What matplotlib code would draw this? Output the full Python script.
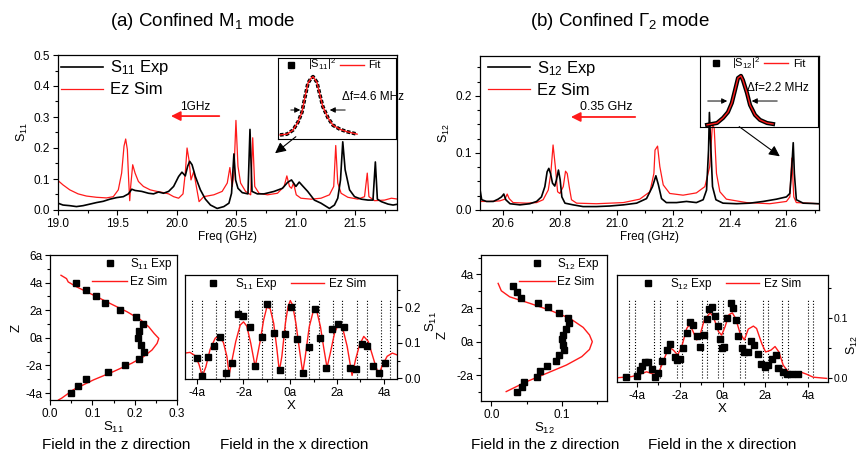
import matplotlib
matplotlib.use("Agg")
import matplotlib.pyplot as plt
from matplotlib.ticker import MultipleLocator, FormatStrFormatter, FuncFormatter
from matplotlib.lines import Line2D

plt.rcParams['font.family'] = ['Liberation Sans', 'DejaVu Sans']
plt.rcParams['mathtext.fontset'] = 'custom'
plt.rcParams['mathtext.rm'] = 'Liberation Sans'
plt.rcParams['mathtext.it'] = 'Liberation Sans:italic'
plt.rcParams['mathtext.bf'] = 'Liberation Sans:bold'

# ---------------- (a) spectrum: S11 exp / Ez sim ----------------
fa_exp = [19.000, 19.042, 19.099, 19.155, 19.211, 19.268, 19.324, 19.380, 19.437, 19.493,
          19.549, 19.592, 19.620, 19.648, 19.704, 19.761, 19.803, 19.845, 19.887, 19.930,
          19.972, 20.014, 20.042, 20.070, 20.090, 20.107, 20.127, 20.155, 20.197, 20.239,
          20.282, 20.338, 20.394, 20.437, 20.459, 20.479, 20.493, 20.513, 20.549, 20.597,
          20.614, 20.631, 20.676, 20.732, 20.817, 20.887, 20.930, 20.963, 21.000, 21.028,
          21.056, 21.099, 21.155, 21.211, 21.282, 21.324, 21.352, 21.375, 21.394, 21.414,
          21.451, 21.493, 21.549, 21.606, 21.648, 21.668, 21.685, 21.718, 21.775, 21.817, 21.859]
sa_exp = [0.022, 0.016, 0.014, 0.011, 0.014, 0.019, 0.024, 0.028, 0.035, 0.040,
          0.043, 0.052, 0.067, 0.063, 0.060, 0.054, 0.052, 0.058, 0.054, 0.060,
          0.076, 0.108, 0.122, 0.110, 0.141, 0.157, 0.146, 0.108, 0.065, 0.035,
          0.016, 0.005, 0.011, 0.022, 0.054, 0.181, 0.097, 0.070, 0.056, 0.052,
          0.260, 0.060, 0.052, 0.052, 0.060, 0.070, 0.089, 0.097, 0.076, 0.090,
          0.078, 0.060, 0.032, 0.022, 0.005, 0.016, 0.038, 0.097, 0.220, 0.130,
          0.065, 0.043, 0.035, 0.032, 0.032, 0.155, 0.035, 0.027, 0.019, 0.016, 0.019]

fa_sim = [19.000, 19.042, 19.099, 19.169, 19.239, 19.324, 19.408, 19.465, 19.507, 19.535,
          19.555, 19.569, 19.583, 19.594, 19.603, 19.611, 19.628, 19.648, 19.676, 19.718,
          19.775, 19.831, 19.887, 19.930, 19.972, 20.014, 20.051, 20.070, 20.085, 20.101,
          20.118, 20.141, 20.163, 20.186, 20.225, 20.310, 20.380, 20.423, 20.445, 20.465,
          20.479, 20.496, 20.513, 20.535, 20.577, 20.620, 20.637, 20.654, 20.690, 20.761,
          20.845, 20.901, 20.924, 20.946, 20.963, 20.980, 21.003, 21.042, 21.127, 21.211,
          21.282, 21.318, 21.335, 21.352, 21.380, 21.437, 21.521, 21.577, 21.600, 21.614,
          21.662, 21.746, 21.803, 21.859]
sa_sim = [0.095, 0.081, 0.065, 0.052, 0.045, 0.041, 0.039, 0.043, 0.065, 0.119,
          0.206, 0.229, 0.195, 0.097, 0.030, 0.076, 0.146, 0.119, 0.092, 0.076,
          0.065, 0.060, 0.056, 0.052, 0.043, 0.038, 0.052, 0.119, 0.200, 0.162,
          0.097, 0.124, 0.076, 0.027, 0.043, 0.049, 0.060, 0.087, 0.137, 0.076,
          0.119, 0.289, 0.141, 0.087, 0.060, 0.049, 0.233, 0.076, 0.054, 0.049,
          0.054, 0.076, 0.110, 0.076, 0.070, 0.087, 0.049, 0.038, 0.035, 0.038,
          0.049, 0.076, 0.208, 0.087, 0.054, 0.041, 0.035, 0.043, 0.119, 0.043,
          0.030, 0.032, 0.038, 0.035]

# inset (a): zoom on one resonance, normalised units
ia_x = [0.017, 0.076, 0.127, 0.170, 0.203, 0.229, 0.254, 0.280, 0.297, 0.330,
        0.356, 0.380, 0.424, 0.466, 0.525, 0.585, 0.670]
ia_y = [0.05, 0.06, 0.11, 0.21, 0.33, 0.52, 0.69, 0.75, 0.77, 0.70,
        0.54, 0.40, 0.26, 0.17, 0.12, 0.09, 0.06]

# ---------------- (b) spectrum: S12 exp / Ez sim ----------------
fb_exp = [20.518, 20.524, 20.541, 20.565, 20.582, 20.594, 20.602, 20.609, 20.624, 20.659,
          20.694, 20.718, 20.735, 20.747, 20.755, 20.761, 20.767, 20.774, 20.782, 20.788,
          20.795, 20.801, 20.807, 20.818, 20.847, 20.882, 20.929, 20.976, 21.024, 21.071,
          21.106, 21.127, 21.139, 21.148, 21.159, 21.176, 21.212, 21.247, 21.282, 21.306,
          21.318, 21.325, 21.328, 21.333, 21.339, 21.351, 21.376, 21.424, 21.471, 21.518,
          21.565, 21.600, 21.612, 21.619, 21.624, 21.628, 21.635, 21.659, 21.715]
sb_exp = [0.036, 0.018, 0.015, 0.015, 0.019, 0.023, 0.028, 0.018, 0.011, 0.009,
          0.011, 0.015, 0.023, 0.041, 0.067, 0.073, 0.064, 0.047, 0.042, 0.053,
          0.070, 0.053, 0.023, 0.012, 0.009, 0.006, 0.006, 0.007, 0.009, 0.012,
          0.020, 0.041, 0.060, 0.044, 0.020, 0.013, 0.013, 0.015, 0.013, 0.018,
          0.035, 0.105, 0.171, 0.111, 0.041, 0.018, 0.012, 0.011, 0.012, 0.015,
          0.019, 0.023, 0.029, 0.076, 0.118, 0.064, 0.018, 0.012, 0.011]

fb_sim = [20.518, 20.553, 20.588, 20.606, 20.614, 20.621, 20.635, 20.682, 20.718, 20.741,
          20.759, 20.768, 20.776, 20.784, 20.792, 20.800, 20.812, 20.820, 20.826, 20.833,
          20.841, 20.859, 20.929, 21.024, 21.082, 21.118, 21.132, 21.136, 21.145, 21.153,
          21.165, 21.188, 21.235, 21.282, 21.312, 21.329, 21.339, 21.345, 21.353, 21.365,
          21.388, 21.459, 21.541, 21.600, 21.612, 21.619, 21.626, 21.635, 21.715]
sb_sim = [0.015, 0.015, 0.016, 0.019, 0.028, 0.020, 0.013, 0.012, 0.013, 0.018,
          0.035, 0.064, 0.114, 0.076, 0.032, 0.029, 0.041, 0.068, 0.064, 0.041,
          0.018, 0.012, 0.011, 0.013, 0.019, 0.032, 0.064, 0.105, 0.112, 0.076,
          0.044, 0.029, 0.026, 0.030, 0.041, 0.076, 0.152, 0.143, 0.064, 0.032,
          0.019, 0.013, 0.011, 0.015, 0.023, 0.091, 0.023, 0.013, 0.011]

ib_x = [0.060, 0.144, 0.195, 0.237, 0.270, 0.297, 0.322, 0.347, 0.364, 0.398,
        0.424, 0.466, 0.508, 0.568, 0.619]
ib_y = [0.03, 0.056, 0.127, 0.21, 0.34, 0.52, 0.69, 0.72, 0.66, 0.48,
        0.31, 0.17, 0.10, 0.056, 0.042]

# ---------------- (a) field profiles ----------------
az_exp_s = [0.061, 0.085, 0.108, 0.131, 0.166, 0.204, 0.219, 0.211, 0.209, 0.214,
            0.221, 0.210, 0.178, 0.138, 0.085, 0.065, 0.050]
az_exp_z = [4.0, 3.5, 3.0, 2.5, 2.0, 1.5, 1.0, 0.5, 0.0, -0.5,
            -1.0, -1.5, -2.0, -2.5, -3.0, -3.5, -4.0]
az_sim_s = [0.020, 0.028, 0.055, 0.103, 0.150, 0.193, 0.221, 0.241, 0.253, 0.257,
            0.246, 0.233, 0.213, 0.182, 0.142, 0.103, 0.063, 0.043, 0.039, 0.026]
az_sim_z = [-4.5, -4.36, -3.76, -3.04, -2.44, -1.84, -1.36, -0.88, -0.4, -0.04,
            0.32, 0.81, 1.33, 1.89, 2.49, 3.09, 3.69, 4.05, 4.29, 4.53]

ax_exp_x = [-4.0, -3.76, -3.5, -3.24, -2.99, -2.73, -2.5, -2.24, -2.0, -1.74,
            -1.5, -1.21, -0.99, -0.71, -0.46, -0.21, 0.01, 0.27, 0.53, 0.8,
            1.06, 1.29, 1.53, 1.79, 2.04, 2.3, 2.56, 2.81, 3.07, 3.29,
            3.54, 3.79, 4.04]
ax_exp_s = [0.057, 0.006, 0.060, 0.090, 0.116, 0.016, 0.044, 0.180, 0.175, 0.144,
            0.034, 0.116, 0.210, 0.129, 0.023, 0.125, 0.201, 0.110, 0.014, 0.088,
            0.194, 0.113, 0.030, 0.138, 0.152, 0.144, 0.030, 0.025, 0.097, 0.090,
            0.034, 0.016, 0.042]
ax_sim_x = [-4.5, -4.29, -4.07, -3.9, -3.76, -3.61, -3.43, -3.21, -3.04, -2.86,
            -2.71, -2.61, -2.5, -2.33, -2.14, -2.0, -1.86, -1.69, -1.5, -1.29,
            -1.14, -1.0, -0.86, -0.71, -0.57, -0.47, -0.36, -0.21, -0.1, 0.0,
            0.1, 0.24, 0.39, 0.53, 0.64, 0.81, 1.0, 1.14, 1.29, 1.43,
            1.57, 1.71, 1.89, 2.07, 2.24, 2.43, 2.64, 2.79, 2.96, 3.14,
            3.33, 3.5, 3.67, 3.79, 3.93, 4.14, 4.36, 4.64]
ax_sim_s = [0.071, 0.073, 0.064, 0.039, 0.006, 0.032, 0.081, 0.113, 0.119, 0.101,
            0.062, 0.011, 0.048, 0.104, 0.150, 0.159, 0.147, 0.099, 0.032, 0.104,
            0.164, 0.201, 0.196, 0.155, 0.081, 0.020, 0.062, 0.155, 0.201, 0.219,
            0.206, 0.155, 0.081, 0.016, 0.062, 0.145, 0.194, 0.187, 0.145, 0.085,
            0.030, 0.071, 0.127, 0.155, 0.141, 0.090, 0.008, 0.053, 0.094, 0.118,
            0.104, 0.067, 0.030, 0.011, 0.036, 0.062, 0.071, 0.064]
ax_rods = [-4.19, -3.79, -3.19, -2.79, -2.19, -1.79, -1.19, -0.79, -0.21, 0.21,
           0.81, 1.21, 1.81, 2.21, 2.86, 3.29, 3.86, 4.24]

# ---------------- (b) field profiles ----------------
bz_exp_s = [0.031, 0.037, 0.042, 0.067, 0.081, 0.096, 0.109, 0.111, 0.107, 0.102,
            0.101, 0.102, 0.103, 0.097, 0.092, 0.079, 0.069, 0.065, 0.046, 0.043, 0.037]
bz_exp_z = [3.31, 2.97, 2.63, 2.32, 2.04, 1.72, 1.39, 1.09, 0.75, 0.40,
            0.14, -0.2, -0.5, -0.79, -1.13, -1.45, -1.72, -2.08, -2.38, -2.67, -2.97]
bz_sim_s = [0.0095, 0.014, 0.026, 0.055, 0.083, 0.112, 0.131, 0.140, 0.144, 0.140,
            0.129, 0.107, 0.079, 0.050, 0.021]
bz_sim_z = [3.47, 3.03, 2.67, 2.28, 1.88, 1.39, 0.85, 0.4, 0.0, -0.46,
            -0.89, -1.39, -1.88, -2.38, -2.97]

bx_exp_x = [-4.51, -4.0, -3.85, -3.74, -3.61, -3.49, -3.3, -3.14, -2.99, -2.8,
            -2.6, -2.45, -2.22, -2.1, -1.98, -1.83, -1.67, -1.52, -1.36, -1.2,
            -1.05, -0.85, -0.74, -0.63, -0.5, -0.35, -0.19, -0.1, -0.04, 0.09,
            0.23, 0.4, 0.5, 0.63, 0.74, 0.89, 1.02, 1.17, 1.33, 1.48,
            1.64, 1.79, 1.98, 2.14, 2.29, 2.49, 2.61, 2.8, 3.0, 3.23, 3.51]
bx_exp_s = [0.003, 0.004, 0.014, 0.021, 0.027, 0.028, 0.016, 0.003, 0.009, 0.029,
            0.048, 0.057, 0.035, 0.030, 0.032, 0.050, 0.075, 0.093, 0.089, 0.071,
            0.053, 0.072, 0.098, 0.115, 0.119, 0.104, 0.087, 0.066, 0.050, 0.053,
            0.100, 0.125, 0.117, 0.097, 0.070, 0.050, 0.044, 0.044, 0.063, 0.056,
            0.041, 0.024, 0.019, 0.022, 0.033, 0.039, 0.017, 0.011, 0.008, 0.007, 0.007]
bx_sim_x = [-4.93, -4.23, -3.77, -3.54, -3.22, -2.99, -2.68, -2.49, -2.29, -2.09,
            -1.9, -1.67, -1.55, -1.41, -1.2, -1.05, -0.85, -0.58, -0.43, -0.19,
            -0.04, 0.12, 0.3, 0.46, 0.61, 0.82, 1.02, 1.2, 1.44, 1.59,
            1.83, 2.01, 2.26, 2.45, 2.63, 2.83, 3.07, 3.38, 3.69, 3.92, 4.23, 4.86]
bx_sim_s = [0.001, 0.003, 0.008, 0.011, 0.007, 0.008, 0.036, 0.052, 0.047, 0.039,
            0.053, 0.083, 0.089, 0.081, 0.064, 0.072, 0.097, 0.109, 0.103, 0.078,
            0.072, 0.086, 0.106, 0.109, 0.100, 0.075, 0.064, 0.082, 0.087, 0.083,
            0.058, 0.044, 0.047, 0.053, 0.044, 0.022, 0.011, 0.008, 0.010, 0.007, 0.002, 0.0]
bx_rods = [-4.36, -4.08, -3.18, -2.91, -2.14, -1.87, -0.97, -0.74, -0.19, 0.04,
           0.82, 1.05, 1.9, 2.14, 2.76, 3.04, 4.0, 4.23]

RED = '#ff1a1a'
W, H = 861, 457
fig = plt.figure(figsize=(W / 100, H / 100), dpi=100)


def box(l, t, r, b):
    return [l / W, 1 - b / H, (r - l) / W, (b - t) / H]


afmt = FuncFormatter(lambda v, p: '%da' % round(v))


def style(ax, fs=8):
    ax.tick_params(which='both', direction='out', labelsize=fs, width=0.8, pad=2)
    ax.tick_params(which='major', length=3.5)
    ax.tick_params(which='minor', length=2)
    for s in ax.spines.values():
        s.set_linewidth(0.9)


# ---------- top (a) ----------
a1 = fig.add_axes(box(58, 55, 397, 210))
a1.plot(fa_sim, sa_sim, color=RED, lw=0.9, label='Ez Sim', zorder=2)
a1.plot(fa_exp, sa_exp, color='k', lw=1.2, label='S$_{11}$ Exp', zorder=3)
a1.set_xlim(19.0, 21.85)
a1.set_ylim(0, 0.5)
a1.xaxis.set_major_locator(MultipleLocator(0.5))
a1.xaxis.set_minor_locator(MultipleLocator(0.25))
a1.yaxis.set_major_locator(MultipleLocator(0.1))
a1.yaxis.set_minor_locator(MultipleLocator(0.05))
a1.xaxis.set_major_formatter(FormatStrFormatter('%.1f'))
a1.yaxis.set_major_formatter(FormatStrFormatter('%.1f'))
style(a1, 8.5)
a1.set_xlabel('Freq (GHz)', fontsize=8.5, labelpad=1)
a1.set_ylabel('S$_{11}$', fontsize=9, labelpad=3)
h, l = a1.get_legend_handles_labels()
a1.legend(h[::-1], l[::-1], loc='upper left', bbox_to_anchor=(0.0, 1.0), frameon=False,
          fontsize=12, handlelength=2.5, handletextpad=0.4, labelspacing=0.3,
          borderpad=0.2, borderaxespad=0)
a1.annotate('', xy=(0.325, 0.606), xytext=(0.484, 0.606), xycoords='axes fraction',
            arrowprops=dict(arrowstyle='-|>', color=RED, lw=1.3, mutation_scale=14))
a1.text(0.36, 0.665, '1GHz', transform=a1.transAxes, fontsize=8.5, va='center')
a1.annotate('', xy=(0.634, 0.355), xytext=(0.708, 0.484), xycoords='axes fraction',
            arrowprops=dict(arrowstyle='-|>', color='k', lw=0.8, mutation_scale=16))

ia = fig.add_axes(box(278, 58, 396, 139))
ia.set_facecolor('none')
ia.plot(ia_x, ia_y, color='k', lw=2.6, ls=(0, (1, 0.5)))
ia.plot(ia_x, ia_y, color=RED, lw=1.0)
ia.set_xlim(0, 1)
ia.set_ylim(0, 1)
ia.set_xticks([])
ia.set_yticks([])
ia.annotate('', xy=(0.212, 0.358), xytext=(0.085, 0.358), xycoords='axes fraction',
            arrowprops=dict(arrowstyle='-|>', color='k', lw=0.7, mutation_scale=8))
ia.annotate('', xy=(0.415, 0.358), xytext=(0.593, 0.358), xycoords='axes fraction',
            arrowprops=dict(arrowstyle='-|>', color='k', lw=0.7, mutation_scale=8))
ia.text(0.54, 0.52, '\u0394f=4.6 MHz', transform=ia.transAxes, fontsize=8.5, va='center')
hs = [Line2D([], [], color='k', marker='s', ls='none', ms=4),
      Line2D([], [], color=RED, lw=1.0)]
ia.legend(hs, ['|S$_{11}$|$^2$', 'Fit'], ncol=2, loc='upper left', bbox_to_anchor=(0.0, 1.03),
          frameon=False, fontsize=8, handlelength=2.2, handletextpad=0.4, columnspacing=0.3,
          borderpad=0.1, borderaxespad=0)

# ---------- top (b) ----------
b1 = fig.add_axes(box(480, 56, 819, 210))
b1.plot(fb_sim, sb_sim, color=RED, lw=0.9, label='Ez Sim', zorder=2)
b1.plot(fb_exp, sb_exp, color='k', lw=1.2, label='S$_{12}$ Exp', zorder=3)
b1.set_xlim(20.518, 21.715)
b1.set_ylim(0, 0.27)
b1.xaxis.set_major_locator(MultipleLocator(0.2))
b1.xaxis.set_minor_locator(MultipleLocator(0.1))
b1.yaxis.set_major_locator(MultipleLocator(0.1))
b1.yaxis.set_minor_locator(MultipleLocator(0.025))
b1.xaxis.set_major_formatter(FormatStrFormatter('%.1f'))
b1.yaxis.set_major_formatter(FormatStrFormatter('%.1f'))
style(b1, 8.5)
b1.set_xlabel('Freq (GHz)', fontsize=8.5, labelpad=1)
b1.set_ylabel('S$_{12}$', fontsize=9, labelpad=3)
h, l = b1.get_legend_handles_labels()
b1.legend(h[::-1], l[::-1], loc='upper left', bbox_to_anchor=(0.015, 1.0), frameon=False,
          fontsize=12, handlelength=2.5, handletextpad=0.4, labelspacing=0.3,
          borderpad=0.2, borderaxespad=0)
b1.annotate('', xy=(0.26, 0.604), xytext=(0.466, 0.604), xycoords='axes fraction',
            arrowprops=dict(arrowstyle='-|>', color=RED, lw=1.3, mutation_scale=14))
b1.text(0.295, 0.669, '0.35 GHz', transform=b1.transAxes, fontsize=9, va='center')
b1.annotate('', xy=(0.891, 0.338), xytext=(0.758, 0.552), xycoords='axes fraction',
            arrowprops=dict(arrowstyle='-|>', color='k', lw=0.8, mutation_scale=16))

ib = fig.add_axes(box(700, 56, 818, 127))
ib.set_facecolor('none')
ib.plot(ib_x, ib_y, color='k', lw=3.0)
ib.plot(ib_x, ib_y, color=RED, lw=1.0)
ib.set_xlim(0, 1)
ib.set_ylim(0, 1)
ib.set_xticks([])
ib.set_yticks([])
ib.annotate('', xy=(0.254, 0.366), xytext=(0.042, 0.366), xycoords='axes fraction',
            arrowprops=dict(arrowstyle='-|>', color='k', lw=0.7, mutation_scale=8))
ib.annotate('', xy=(0.415, 0.366), xytext=(0.678, 0.366), xycoords='axes fraction',
            arrowprops=dict(arrowstyle='-|>', color='k', lw=0.7, mutation_scale=8))
ib.text(0.40, 0.55, '\u0394f=2.2 MHz', transform=ib.transAxes, fontsize=8.5, va='center')
ib.legend(hs, ['|S$_{12}$|$^2$', 'Fit'], ncol=2, loc='upper left', bbox_to_anchor=(0.02, 1.03),
          frameon=False, fontsize=8, handlelength=2.2, handletextpad=0.4, columnspacing=0.3,
          borderpad=0.1, borderaxespad=0)

# ---------- bottom (a): z profile ----------
a2 = fig.add_axes(box(50, 255, 177, 400))
a2.plot(az_sim_s, az_sim_z, color=RED, lw=1.0, label='Ez Sim')
a2.plot(az_exp_s, az_exp_z, 'ks', ms=4.5, label='S$_{11}$ Exp')
a2.set_xlim(0, 0.3)
a2.set_ylim(-4.5, 6)
a2.xaxis.set_major_locator(MultipleLocator(0.1))
a2.xaxis.set_minor_locator(MultipleLocator(0.05))
a2.yaxis.set_major_locator(MultipleLocator(2))
a2.yaxis.set_minor_locator(MultipleLocator(1))
a2.xaxis.set_major_formatter(FormatStrFormatter('%.1f'))
a2.yaxis.set_major_formatter(afmt)
style(a2, 8.5)
a2.set_xlabel('S$_{11}$', fontsize=9.5, labelpad=0)
a2.set_ylabel('Z', fontsize=9.5, labelpad=2)
h, l = a2.get_legend_handles_labels()
a2.legend(h[::-1], l[::-1], loc='upper right', bbox_to_anchor=(0.97, 1.0), frameon=False,
          fontsize=8.5, handlelength=3.0, handletextpad=0.2, labelspacing=0.3,
          borderpad=0.1, borderaxespad=0, numpoints=1)

# ---------- bottom (a): x profile ----------
a3 = fig.add_axes(box(185, 275, 397, 379))
a3.vlines(ax_rods, 0, 0.222, colors='k', linestyles=':', lw=0.8)
a3.plot(ax_sim_x, ax_sim_s, color=RED, lw=1.0, label='Ez Sim')
a3.plot(ax_exp_x, ax_exp_s, 'ks', ms=4.5, label='S$_{11}$ Exp')
a3.set_xlim(-4.5, 4.56)
a3.set_ylim(-0.002, 0.291)
a3.yaxis.tick_right()
a3.xaxis.set_major_locator(MultipleLocator(2))
a3.xaxis.set_minor_locator(MultipleLocator(1))
a3.yaxis.set_major_locator(MultipleLocator(0.1))
a3.yaxis.set_minor_locator(MultipleLocator(0.05))
a3.xaxis.set_major_formatter(afmt)
a3.yaxis.set_major_formatter(FormatStrFormatter('%.1f'))
style(a3, 8.5)
a3.set_xlabel('X', fontsize=9.5, labelpad=1)
a3.set_ylabel('S$_{11}$', fontsize=9.5, rotation=90)
a3.yaxis.set_label_position('right')
a3.yaxis.set_label_coords(1.125, 0.55)
h, l = a3.get_legend_handles_labels()
a3.legend(h[::-1], l[::-1], ncol=2, loc='upper left', bbox_to_anchor=(0.05, 1.0), frameon=False,
          fontsize=8.5, handlelength=2.8, handletextpad=0.4, columnspacing=1.2,
          borderpad=0.1, borderaxespad=0, numpoints=1)

# ---------- bottom (b): z profile ----------
b2 = fig.add_axes(box(481, 255, 607, 401))
b2.plot(bz_sim_s, bz_sim_z, color=RED, lw=1.0, label='Ez Sim')
b2.plot(bz_exp_s, bz_exp_z, 'ks', ms=4.5, label='S$_{12}$ Exp')
b2.set_xlim(-0.015, 0.165)
b2.set_ylim(-3.53, 5.16)
b2.xaxis.set_major_locator(MultipleLocator(0.1))
b2.xaxis.set_minor_locator(MultipleLocator(0.05))
b2.yaxis.set_major_locator(MultipleLocator(2))
b2.yaxis.set_minor_locator(MultipleLocator(1))
b2.xaxis.set_major_formatter(FormatStrFormatter('%.1f'))
b2.yaxis.set_major_formatter(afmt)
style(b2, 8.5)
b2.set_xlabel('S$_{12}$', fontsize=9.5, labelpad=0)
b2.set_ylabel('Z', fontsize=9.5)
b2.yaxis.set_label_coords(-0.26, 0.45)
h, l = b2.get_legend_handles_labels()
b2.legend(h[::-1], l[::-1], loc='upper right', bbox_to_anchor=(0.95, 1.0), frameon=False,
          fontsize=8.5, handlelength=3.0, handletextpad=0.2, labelspacing=0.3,
          borderpad=0.1, borderaxespad=0, numpoints=1)

# ---------- bottom (b): x profile ----------
b3 = fig.add_axes(box(617, 275, 828, 382))
b3.vlines(bx_rods, 0, 0.132, colors='k', linestyles=':', lw=0.8)
b3.plot(bx_sim_x, bx_sim_s, color=RED, lw=1.0, label='Ez Sim')
b3.plot(bx_exp_x, bx_exp_s, 'ks', ms=4.5, label='S$_{12}$ Exp')
b3.set_xlim(-4.92, 4.92)
b3.set_ylim(-0.006, 0.172)
b3.yaxis.tick_right()
b3.xaxis.set_major_locator(MultipleLocator(2))
b3.xaxis.set_minor_locator(MultipleLocator(1))
b3.yaxis.set_major_locator(MultipleLocator(0.1))
b3.yaxis.set_minor_locator(MultipleLocator(0.05))
b3.xaxis.set_major_formatter(afmt)
b3.yaxis.set_major_formatter(FormatStrFormatter('%.1f'))
style(b3, 8.5)
b3.tick_params(axis='y', labelsize=7.5, pad=1)
b3.tick_params(axis='y', which='major', length=3)
b3.set_xlabel('X', fontsize=9.5, labelpad=1)
b3.set_ylabel('S$_{12}$', fontsize=9, rotation=90)
b3.yaxis.set_label_position('right')
b3.yaxis.set_label_coords(1.08, 0.34)
h, l = b3.get_legend_handles_labels()
b3.legend(h[::-1], l[::-1], ncol=2, loc='upper left', bbox_to_anchor=(0.065, 1.0), frameon=False,
          fontsize=8.5, handlelength=2.8, handletextpad=0.4, columnspacing=1.2,
          borderpad=0.1, borderaxespad=0, numpoints=1)

# ---------- titles and captions ----------
fig.text(203 / W, 1 - 22 / H, '(a) Confined M$_1$ mode', ha='center', va='center', fontsize=13.5)
fig.text(620 / W, 1 - 22 / H, '(b) Confined \u0393$_2$ mode', ha='center', va='center', fontsize=13.5)
for xc, s in [(116, 'z'), (294, 'x'), (545, 'z'), (722, 'x')]:
    fig.text(xc / W, 1 - 445 / H, 'Field in the %s direction' % s, ha='center', va='center',
             fontsize=11)

fig.savefig('out.png', dpi=100)
